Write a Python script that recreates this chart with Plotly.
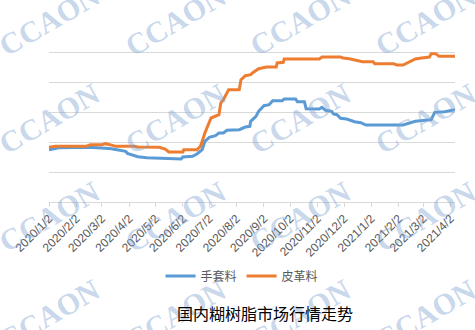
import plotly.graph_objects as go

# 皮革料 (leather grade)
leather_dates = ["2020-01-02","2020-01-09","2020-02-13","2020-02-18","2020-03-02","2020-03-06","2020-03-11","2020-03-18",
                 "2020-04-08","2020-04-12","2020-05-06","2020-05-13","2020-05-17","2020-06-02","2020-06-03","2020-06-18",
                 "2020-06-22","2020-06-27","2020-07-04","2020-07-13","2020-07-15","2020-07-18","2020-07-24","2020-08-05",
                 "2020-08-07","2020-08-12","2020-08-18","2020-08-20","2020-08-27","2020-09-05","2020-09-16","2020-09-17",
                 "2020-09-24","2020-09-25","2020-11-04","2020-11-07","2020-11-28","2020-12-01","2020-12-08","2020-12-15",
                 "2020-12-23","2021-01-04","2021-01-06","2021-01-27","2021-01-31","2021-02-07","2021-02-14","2021-02-21",
                 "2021-02-28","2021-03-09","2021-03-11","2021-03-16","2021-03-20","2021-04-07"]
leather_vals = [7644,7711,7711,7822,7822,7889,7822,7711,
                7711,7667,7644,7533,7333,7333,7489,7489,
                7711,8600,9600,9822,10600,10822,11489,11489,
                12155,12422,12489,12600,12889,13000,13000,13267,
                13311,13533,13533,13667,13667,13600,13555,13444,
                13355,13355,13222,13222,13133,13133,13333,13533,
                13600,13667,13889,13889,13711,13711]

# 手套料 (glove grade)
glove_dates = ["2020-01-02","2020-01-13","2020-02-16","2020-03-02","2020-03-06","2020-03-13","2020-03-18","2020-03-24",
               "2020-03-29","2020-03-31","2020-04-08","2020-04-12","2020-04-22","2020-05-13","2020-05-17","2020-05-31",
               "2020-06-02","2020-06-13","2020-06-18","2020-06-24","2020-06-27","2020-07-02","2020-07-09","2020-07-13",
               "2020-07-18","2020-07-22","2020-08-05","2020-08-09","2020-08-12","2020-08-17","2020-08-18","2020-08-24",
               "2020-08-27","2020-09-02","2020-09-08","2020-09-12","2020-09-23","2020-09-25","2020-10-08","2020-10-10",
               "2020-10-18","2020-10-20","2020-11-04","2020-11-07","2020-11-11","2020-11-18","2020-11-20","2020-11-24",
               "2020-11-28","2020-12-05","2020-12-08","2020-12-14","2020-12-21","2020-12-27","2021-02-07","2021-02-14",
               "2021-02-21","2021-03-11","2021-03-15","2021-03-26","2021-04-07"]
glove_vals = [7489,7622,7644,7622,7578,7555,7489,7422,
              7378,7244,7111,7022,6955,6911,6866,6866,
              7000,7044,7200,7489,8044,8311,8422,8600,
              8600,8778,8822,8933,9000,9044,9378,9711,
              10044,10422,10489,10755,10755,10866,10866,10689,
              10689,10222,10200,10311,10111,10044,9867,9822,
              9578,9533,9467,9355,9289,9133,9133,9267,
              9378,9489,9978,10022,10155]

tick_dates = ["2020-01-02","2020-02-02","2020-03-02","2020-04-02","2020-05-02","2020-06-02","2020-07-02","2020-08-02",
              "2020-09-02","2020-10-02","2020-11-02","2020-12-02","2021-01-02","2021-02-02","2021-03-02","2021-04-02"]
tick_labels = ["2020/1/2","2020/2/2","2020/3/2","2020/4/2","2020/5/2","2020/6/2","2020/7/2","2020/8/2",
               "2020/9/2","2020/10/2","2020/11/2","2020/12/2","2021/1/2","2021/2/2","2021/3/2","2021/4/2"]

series_names = ["手套料", "皮革料"]
title_text = "国内糊树脂市场行情走势"
watermark = "CCAON"

W, H = 475, 330
ML, MR, MT, MB = 47, 20, 22, 128
pw, ph = W - ML - MR, H - MT - MB

fig = go.Figure()
fig.add_trace(go.Scatter(x=glove_dates, y=glove_vals, mode="lines", name=series_names[0],
                         line=dict(color="#5B9BD5", width=3)))
fig.add_trace(go.Scatter(x=leather_dates, y=leather_vals, mode="lines", name=series_names[1],
                         line=dict(color="#ED7D31", width=3)))

def px2paper(x, y):
    return (x - ML) / pw, (H - MB - y) / ph

annotations = []
for cy in [20, 118, 216, 314]:
    for cx in [47, 174, 299, 425]:
        xp, yp = px2paper(cx, cy)
        annotations.append(dict(x=xp, y=yp, xref="paper", yref="paper", text="<b>" + watermark + "</b>",
                                showarrow=False, textangle=-30, xanchor="center", yanchor="middle",
                                font=dict(family="Liberation Serif", size=30, color="rgba(125,160,210,0.42)")))
xp, yp = px2paper(264, 313)
annotations.append(dict(x=xp, y=yp, xref="paper", yref="paper", text=title_text, showarrow=False,
                        xanchor="center", yanchor="middle",
                        font=dict(family="Noto Sans CJK SC", size=16, color="#000000")))

lx, ly = px2paper(241, 276)
fig.update_layout(
    width=W, height=H,
    margin=dict(l=ML, r=MR, t=MT, b=MB),
    paper_bgcolor="white", plot_bgcolor="white",
    showlegend=True,
    legend=dict(orientation="h", x=lx, y=ly, xanchor="center", yanchor="middle",
                font=dict(family="Noto Sans CJK SC", size=12, color="#595959"),
                itemwidth=30, tracegroupgap=0, bgcolor="rgba(0,0,0,0)"),
    annotations=annotations,
    xaxis=dict(type="date", range=["2020-01-02", "2021-04-07"], tickvals=tick_dates, ticktext=tick_labels,
               tickangle=-45, showgrid=False, showline=True, linecolor="#d9d9d9", linewidth=1,
               ticks="outside", ticklen=4, tickcolor="#d9d9d9",
               tickfont=dict(family="Liberation Sans", size=12, color="#595959"), zeroline=False),
    yaxis=dict(range=[4000, 16000], dtick=2000, tick0=4000, showticklabels=False, showgrid=True,
               gridcolor="#d9d9d9", gridwidth=1, zeroline=False, showline=False, ticks=""),
)

fig.write_html("out.html")
